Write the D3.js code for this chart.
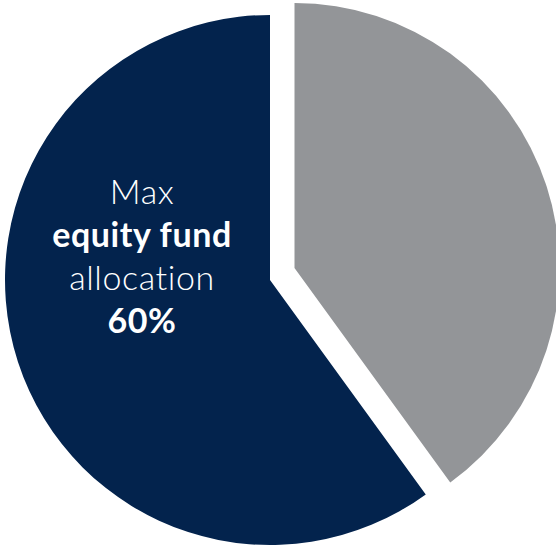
<!DOCTYPE html>
<html><head><meta charset="utf-8">
<script src="https://cdn.jsdelivr.net/npm/d3@7"></script>
<style>html,body{margin:0;padding:0;background:#fff;overflow:hidden}</style>
</head><body>
<svg id="c" width="556" height="546"></svg>
<script>
const categories = ["Other", "Max equity fund allocation"];
const values = [40, 60];
const colors = ["#939598", "#03234d"];
const labelLines = [
  {text: "Max", bold: false},
  {text: "equity fund", bold: true},
  {text: "allocation", bold: false},
  {text: "60%", bold: true}
];

const svg = d3.select("#c");
const cx = 270, cy = 280, r = 265;
const pie = d3.pie().sort(null).value(d => d)(values);
const arc = d3.arc().innerRadius(0).outerRadius(r);
const g = svg.append("g").attr("transform", `translate(${cx},${cy})`);
g.selectAll("path").data(pie).join("path")
  .attr("d", arc)
  .attr("fill", (d, i) => colors[i])
  .attr("transform", (d, i) => i === 0 ? "translate(24.5,-12)" : null);

const t = svg.append("text")
  .attr("text-anchor", "middle")
  .attr("font-family", "Lato, 'Open Sans', sans-serif")
  .attr("font-size", 34)
  .attr("letter-spacing", 0.6)
  .attr("fill", "#fff");
labelLines.forEach((l, i) => {
  t.append("tspan")
    .attr("x", 142)
    .attr("y", 203.5 + i * 43.3)
    .attr("font-weight", l.bold ? 700 : 300)
    .text(l.text);
});
</script>
</body></html>
